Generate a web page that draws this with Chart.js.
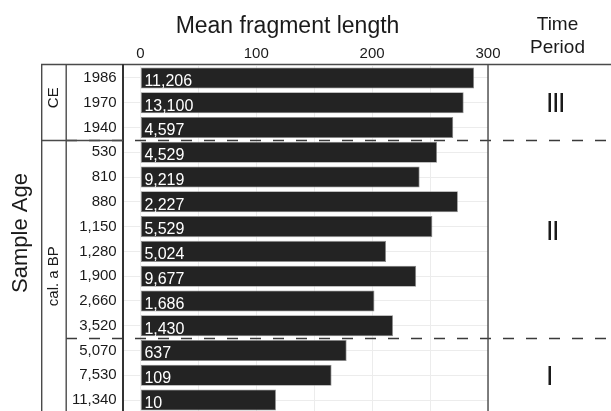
<!DOCTYPE html>
<html>
<head>
<meta charset="utf-8">
<script src="https://cdn.jsdelivr.net/npm/chart.js@4.4.1/dist/chart.umd.min.js"></script>
<style>
  html, body { margin: 0; padding: 0; overflow: hidden; background: #ffffff; }
  canvas { display: block; }
</style>
</head>
<body>
<canvas id="chart" width="611" height="420"></canvas>
<script>
// Sample ages (top to bottom) and their mean fragment length
const sampleAges = ['1986', '1970', '1940', '530', '810', '880', '1,150', '1,280', '1,900', '2,660', '3,520', '5,070', '7,530', '11,340'];
const meanFragmentLength = [288, 279, 270, 256, 241, 274, 252, 212, 238, 202, 218, 178, 165, 117];
// Number of fragments behind each mean, printed inside the bars
const fragmentCounts = ['11,206', '13,100', '4,597', '4,529', '9,219', '2,227', '5,529', '5,024', '9,677', '1,686', '1,430', '637', '109', '10'];
// Age scale groups (first/last row index)
const ageGroupLabels = ['CE', 'cal. a BP'];
const ageGroupFirst = [0, 3];
const ageGroupLast = [2, 13];
// Time periods (first/last row index)
const periodLabels = ['III', 'II', 'I'];
const periodFirst = [0, 3, 11];
const periodLast = [2, 10, 13];
const axisTickLabels = [0, 100, 200, 300];

const FONT = "'Liberation Sans', Arial, Helvetica, sans-serif";
const LINE = '#4a4a4a';

function rowEdge(y, i) {
  // pixel boundary above row i
  const h = (y.bottom - y.top) / sampleAges.length;
  return y.top + i * h;
}

const framePlugin = {
  id: 'frame',
  beforeDatasetsDraw(chart) {
    const ctx = chart.ctx;
    const y = chart.scales.y;
    ctx.save();
    ctx.strokeStyle = '#3a3a3a';
    ctx.lineWidth = 1.3;
    ctx.setLineDash([11, 12]);
    for (let g = 1; g < periodFirst.length; g++) {
      const yy = Math.round(rowEdge(y, periodFirst[g])) + 0.5;
      ctx.beginPath();
      ctx.moveTo(66, yy);
      ctx.lineTo(chart.width, yy);
      ctx.stroke();
    }
    ctx.restore();
  },
  afterDraw(chart) {
    const ctx = chart.ctx;
    const x = chart.scales.x;
    const y = chart.scales.y;
    const area = chart.chartArea;
    ctx.save();

    // frame lines
    ctx.strokeStyle = LINE;
    ctx.lineWidth = 1.4;
    ctx.beginPath();
    ctx.moveTo(41, 64.5); ctx.lineTo(chart.width, 64.5);
    ctx.stroke();
    [41.7, 66.2, x.getPixelForValue(300)].forEach(px => {
      ctx.beginPath();
      ctx.moveTo(px, 64); ctx.lineTo(px, chart.height);
      ctx.stroke();
    });
    ctx.strokeStyle = '#333333';
    ctx.lineWidth = 2;
    ctx.beginPath();
    ctx.moveTo(area.left, 64); ctx.lineTo(area.left, chart.height);
    ctx.stroke();

    // solid split between the age groups
    ctx.strokeStyle = LINE;
    ctx.lineWidth = 1.3;
    for (let g = 1; g < ageGroupFirst.length; g++) {
      const yy = Math.round(rowEdge(y, ageGroupFirst[g])) + 0.5;
      ctx.beginPath();
      ctx.moveTo(41.7, yy); ctx.lineTo(area.left, yy);
      ctx.stroke();
    }

    // counts inside bars
    ctx.fillStyle = '#ffffff';
    ctx.font = '16px ' + FONT;
    ctx.textAlign = 'left';
    ctx.textBaseline = 'alphabetic';
    fragmentCounts.forEach((t, i) => {
      ctx.fillText(t, x.getPixelForValue(0) + 4, y.getPixelForValue(i) + 7.8);
    });

    // axis title
    ctx.fillStyle = '#1a1a1a';
    ctx.textAlign = 'center';
    ctx.textBaseline = 'alphabetic';
    ctx.font = '23px ' + FONT;
    ctx.fillText('Mean fragment length', 287.5, 32.5);

    // rotated labels
    ctx.textBaseline = 'middle';
    ageGroupLabels.forEach((t, g) => {
      const cy = (rowEdge(y, ageGroupFirst[g]) + rowEdge(y, ageGroupLast[g] + 1)) / 2;
      ctx.save();
      ctx.translate(53.5, g === 0 ? cy - 5 : cy);
      ctx.rotate(-Math.PI / 2);
      ctx.font = '15px ' + FONT;
      ctx.fillText(t, 0, 0);
      ctx.restore();
    });
    ctx.save();
    ctx.translate(21, 233);
    ctx.rotate(-Math.PI / 2);
    ctx.font = '22px ' + FONT;
    ctx.fillText('Sample Age', 0, 0);
    ctx.restore();

    // time period column
    ctx.font = '19px ' + FONT;
    ctx.textBaseline = 'alphabetic';
    ctx.fillText('Time', 557.5, 30);
    ctx.fillText('Period', 557.5, 53);
    ctx.font = '27px ' + FONT;
    ctx.textAlign = 'left';
    ctx.letterSpacing = '-1.5px';
    const periodRow = [1, 6.15, 12];
    periodLabels.forEach((t, p) => {
      ctx.fillText(t, 546, y.getPixelForValue(periodRow[p]) + 9.5);
    });
    ctx.restore();
  }
};

new Chart(document.getElementById('chart'), {
  type: 'bar',
  data: {
    labels: sampleAges,
    datasets: [{
      data: meanFragmentLength,
      backgroundColor: '#232323',
      borderColor: '#8c8c8c',
      borderWidth: 0.8,
      borderSkipped: false,
      barPercentage: 0.85,
      categoryPercentage: 1.0
    }]
  },
  options: {
    indexAxis: 'y',
    responsive: false,
    animation: false,
    devicePixelRatio: 1,
    layout: { padding: { left: 66, right: 123, top: 0, bottom: 7.6 } },
    plugins: { legend: { display: false }, tooltip: { enabled: false } },
    scales: {
      x: {
        position: 'top',
        min: -15,
        max: 300,
        afterFit(scale) { scale.height = 65.6; scale.paddingLeft = 0; scale.paddingRight = 0; },
        border: { display: false },
        grid: { color: '#ececec', lineWidth: 1, drawTicks: false },
        ticks: {
          stepSize: 50,
          includeBounds: false,
          padding: 3,
          color: '#1a1a1a',
          font: { family: FONT, size: 15 },
          maxRotation: 0,
          autoSkip: false,
          callback: v => axisTickLabels.includes(v) ? String(v) : ''
        }
      },
      y: {
        afterFit(scale) { scale.width = 57; scale.paddingTop = 0; scale.paddingBottom = 0; },
        border: { display: false },
        grid: { color: '#ececec', lineWidth: 1, drawTicks: false, offset: false },
        ticks: {
          padding: 6.3,
          color: '#1a1a1a',
          font: { family: FONT, size: 15 },
          autoSkip: false
        }
      }
    }
  },
  plugins: [framePlugin]
});
</script>
</body>
</html>
